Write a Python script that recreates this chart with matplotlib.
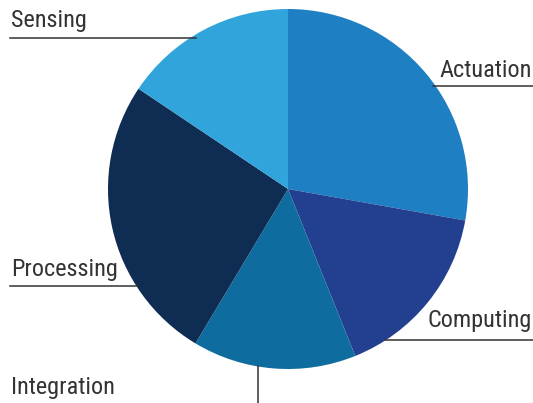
import matplotlib
matplotlib.use("Agg")
import matplotlib.pyplot as plt

categories = ["Actuation", "Computing", "Integration", "Processing", "Sensing"]
values = [27.8, 16.1, 14.7, 25.8, 15.6]
colors = ["#1f7fc3", "#233f8f", "#0f6c9f", "#0f2c52", "#30a4db"]

fam = ["Roboto Condensed", "DejaVu Sans"]

W, H = 533, 403
fig = plt.figure(figsize=(W / 100, H / 100), dpi=100)
ax = fig.add_axes([0, 0, 1, 1])
ax.axis("off")

cx, cy, r = 288, H - 189, 180
ax.pie(values, colors=colors, startangle=90, counterclock=False,
       center=(cx, cy), radius=r, wedgeprops=dict(linewidth=0))
ax.set_xlim(0, W)
ax.set_ylim(0, H)
ax.set_aspect("auto")

tc = "#333333"
fs = 17.5
def Y(y):
    return H - y

# Sensing
ax.text(11, Y(27), "Sensing", fontsize=fs, family=fam, color=tc, ha="left", va="baseline")
ax.plot([10, 196], [Y(38), Y(38)], color=tc, lw=1.1)
# Actuation
ax.text(532, Y(77), "Actuation", fontsize=fs, family=fam, color=tc, ha="right", va="baseline")
ax.plot([433, 533], [Y(85.5), Y(85.5)], color=tc, lw=1.1)
# Computing
ax.text(532, Y(327), "Computing", fontsize=fs, family=fam, color=tc, ha="right", va="baseline")
ax.plot([385, 533], [Y(339.5), Y(339.5)], color=tc, lw=1.1)
# Processing
ax.text(11, Y(276), "Processing", fontsize=fs, family=fam, color=tc, ha="left", va="baseline")
ax.plot([10, 137], [Y(285.5), Y(285.5)], color=tc, lw=1.1)
# Integration
ax.text(11, Y(394), "Integration", fontsize=fs, family=fam, color=tc, ha="left", va="baseline")
ax.plot([258, 258], [Y(366), 0], color=tc, lw=1.1)

fig.savefig("out.png", dpi=100)
